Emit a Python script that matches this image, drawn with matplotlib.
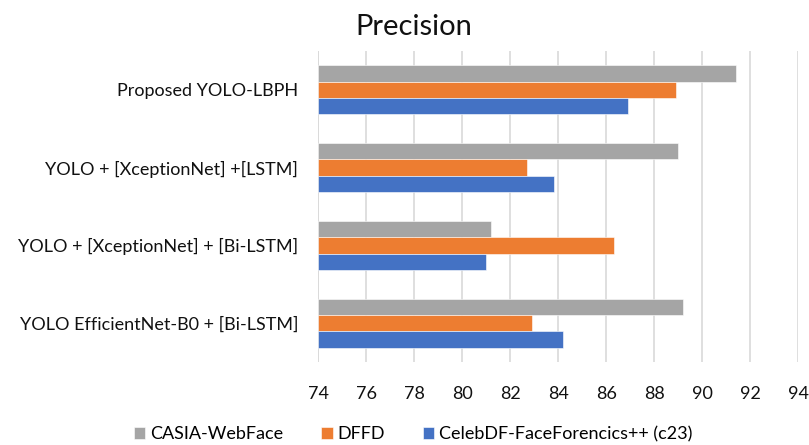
import matplotlib
matplotlib.use("Agg")
import matplotlib.pyplot as plt
import numpy as np

plt.rcParams['font.family'] = ['Lato', 'DejaVu Sans']

categories = [
    "YOLO EfficientNet-B0 + [Bi-LSTM]",
    "YOLO + [XceptionNet] + [Bi-LSTM]",
    "YOLO + [XceptionNet] +[LSTM]",
    "Proposed YOLO-LBPH",
]
casia = [89.2, 81.2, 89.0, 91.4]
dffd = [82.9, 86.3, 82.7, 88.9]
celebdf = [84.2, 81.0, 83.8, 86.9]
series_names = ["CASIA-WebFace", "DFFD", "CelebDF-FaceForencics++ (c23)"]
xticks = [74, 76, 78, 80, 82, 84, 86, 88, 90, 92, 94]

colors = ["#A5A5A5", "#ED7D31", "#4472C4"]

fig = plt.figure(figsize=(8.09, 4.45), dpi=100)
ax = fig.add_axes([318.3 / 809, 1 - 362 / 445, 480 / 809, 311 / 445])

y = np.arange(len(categories))
h = 0.21
base = 74
for vals, off, col, name in zip([casia, dffd, celebdf], [h, 0, -h], colors, series_names):
    ax.barh(y + off, np.array(vals) - base, left=base, height=h, color=col,
            label=name, edgecolor="white", linewidth=0.4, zorder=3)

ax.set_xlim(74, 94)
ax.set_ylim(-0.5, 3.5)
ax.set_xticks(xticks)
ax.set_xticklabels([str(t) for t in xticks], fontsize=13)
ax.set_yticks(y)
ax.set_yticklabels(categories, fontsize=13)
ax.tick_params(axis='both', length=0, colors="#111111")
ax.tick_params(axis='x', pad=17)
ax.tick_params(axis='y', pad=14.5)
ax.grid(axis='x', color="#D9D9D9", linewidth=1.2, zorder=0)
for s in ax.spines.values():
    s.set_visible(False)
ax.axvline(74, color="#D9D9D9", linewidth=1.2, zorder=1)

fig.text(414 / 809, 1 - 35 / 445, "Precision", ha='center', va='baseline',
         fontsize=21, color="#111111")

handles, labels = ax.get_legend_handles_labels()
fig.legend(handles, labels, loc='center', bbox_to_anchor=(413 / 809, 1 - 434 / 445),
           ncol=3, frameon=False, fontsize=13, handlelength=0.65, handleheight=0.65,
           handletextpad=0.25, columnspacing=2.1)

fig.savefig("out.png", dpi=100)
